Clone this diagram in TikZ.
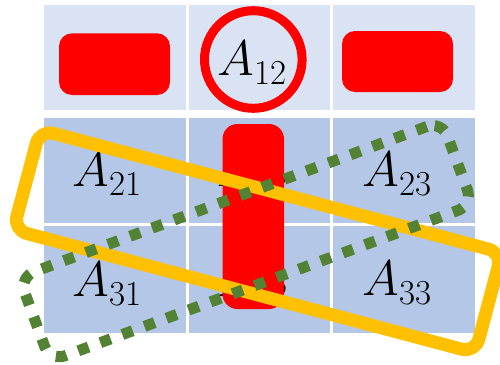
\RequirePackage{fix-cm}
\documentclass[tikz,border=0pt]{standalone}
\definecolor{hdrblue}{HTML}{DAE3F3}
\definecolor{bodyblue}{HTML}{B4C7E7}
\definecolor{gold}{HTML}{FFC000}
\definecolor{leaf}{HTML}{548235}
\definecolor{pure}{HTML}{FF0000}
\newcommand\Aidx[1]{$A$\kern0.5pt\raisebox{-9.5pt}{\fontsize{35}{36}\selectfont #1}}
\begin{document}
\begin{tikzpicture}[x=1pt,y=-1pt,
  hdrcell/.style={fill=hdrblue},
  bodycell/.style={fill=bodyblue},
  lbl/.style={anchor=base, inner sep=0pt, font=\fontsize{50}{52}\selectfont},
  redbar/.style={fill=pure, rounded corners=13pt},
  goldbox/.style={draw=gold, line width=13pt, rounded corners=14pt, inner sep=0pt},
  leafbox/.style={draw=leaf, line width=11pt, dash pattern=on 11pt off 12.5pt, rounded corners=16pt, inner sep=0pt}]
\useasboundingbox (0,0) rectangle (500,364);
\clip (0,0) rectangle (500,364);
% cells
\fill[hdrcell] (44,5) rectangle (186,110);
\fill[hdrcell] (189,5) rectangle (330,110);
\fill[hdrcell] (333,5) rectangle (475,110);
\fill[bodycell] (44,118) rectangle (186,223);
\fill[bodycell] (189,118) rectangle (330,223);
\fill[bodycell] (333,118) rectangle (475,223);
\fill[bodycell] (44,226) rectangle (186,333);
\fill[bodycell] (189,226) rectangle (330,333);
\fill[bodycell] (333,226) rectangle (475,333);
% labels
\node[lbl] (a12) at (252,75) {\Aidx{12}};
\node[lbl] (a21) at (107,186) {\Aidx{21}};
\node[lbl] (a22) at (252.5,186) {\Aidx{22}};
\node[lbl] (a23) at (397,186) {\Aidx{23}};
\node[lbl] (a31) at (107,296) {\Aidx{31}};
\node[lbl] (a32) at (252.5,296) {\Aidx{32}};
\node[lbl] (a33) at (397,295) {\Aidx{33}};
% red marks
\fill[redbar] (59,33.3) rectangle (170,95);
\fill[redbar] (342,31) rectangle (453,92);
\fill[redbar, rounded corners=15pt] (222.5,124) rectangle (284,309);
\draw[pure, line width=9pt] (253.3,59.5) circle[radius=48.8pt];
% gold box
\node[goldbox, minimum width=478pt, minimum height=103.6pt, rotate=-14.9] (gold) at (257.6,241.3) {};
% green dotted box
\node[leafbox, minimum width=450.8pt, minimum height=89.5pt, rotate=20.3] (leaf) at (246,241.1) {};
\end{tikzpicture}
\end{document}
